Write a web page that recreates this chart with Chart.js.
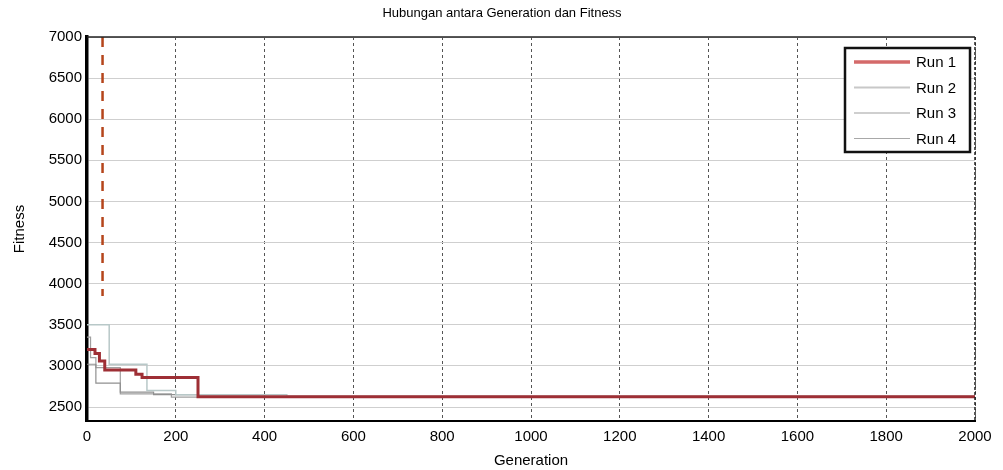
<!DOCTYPE html>
<html>
<head>
<meta charset="utf-8">
<script src="https://cdn.jsdelivr.net/npm/chart.js@4"></script>
<style>
  html, body { margin: 0; padding: 0; background: #fff; }
  #wrap { width: 1003px; height: 470px; }
</style>
</head>
<body>
<div id="wrap"><canvas id="fitnessChart"></canvas></div>
<script>
// values
const xTicks = [0, 200, 400, 600, 800, 1000, 1200, 1400, 1600, 1800, 2000];
const yTicks = [2500, 3000, 3500, 4000, 4500, 5000, 5500, 6000, 6500, 7000];

const run1Gen = [0, 18, 28, 40, 110, 124, 250, 2000];
const run1Fit = [3200, 3150, 3060, 2950, 2900, 2860, 2625, 2625];

const run2Gen = [0, 50, 135, 200, 450, 2000];
const run2Fit = [3500, 3020, 2700, 2650, 2630, 2615];

const run3Gen = [0, 20, 75, 150, 400, 2000];
const run3Fit = [3020, 2790, 2680, 2650, 2625, 2615];

const run4Gen = [0, 8, 20, 75, 190, 2000];
const run4Fit = [3350, 3100, 2980, 2660, 2620, 2612];

const markGen = [35, 35];
const markFit = [7000, 3850];

const legendOrder = ['Run 1', 'Run 2', 'Run 3', 'Run 4'];

function toPoints(gens, fits) {
    return gens.map(function (g, i) { return { x: g, y: fits[i] }; });
}

const FONT = '"Liberation Sans", Arial, sans-serif';

const frameAndLegend = {
    id: 'frameAndLegend',
    afterDraw: function (chart) {
        const c = chart.ctx;
        const a = chart.chartArea;
        c.save();
        // title
        c.fillStyle = '#000';
        c.font = '13px ' + FONT;
        c.textAlign = 'center';
        c.textBaseline = 'middle';
        c.fillText('Hubungan antara Generation dan Fitness', 502, 13);

        // top and right frame
        c.strokeStyle = '#222';
        c.lineWidth = 1.5;
        c.beginPath();
        c.moveTo(a.left, a.top);
        c.lineTo(a.right, a.top);
        c.stroke();
        c.setLineDash([3, 2]);
        c.beginPath();
        c.moveTo(a.right, a.top);
        c.lineTo(a.right, a.bottom);
        c.stroke();
        c.setLineDash([]);

        // legend box
        const bx = 845, by = 48, bw = 125, bh = 104;
        c.fillStyle = '#fff';
        c.fillRect(bx, by, bw, bh);
        c.strokeStyle = '#111';
        c.lineWidth = 2.5;
        c.strokeRect(bx, by, bw, bh);
        c.font = '15px ' + FONT;
        c.textAlign = 'left';
        legendOrder.forEach(function (name, i) {
            const d = chart.data.datasets.find(function (ds) { return ds.label === name; });
            const yy = by + 14 + i * 25.5;
            c.strokeStyle = d.legendColor;
            c.lineWidth = d.legendWidth;
            c.beginPath();
            c.moveTo(bx + 9, yy);
            c.lineTo(bx + 65, yy);
            c.stroke();
            c.fillStyle = '#000';
            c.fillText(d.label, bx + 71, yy + 1);
        });
        c.restore();
    }
};

// Chart.js paints dataset 0 last, so the red run sits on top of the grey ones
new Chart(document.getElementById('fitnessChart').getContext('2d'), {
    type: 'line',
    data: {
        datasets: [
            {
                label: '', data: toPoints(markGen, markFit),
                borderColor: '#b5451b', borderWidth: 2.5, borderDash: [10, 8],
                pointRadius: 0
            },
            {
                label: 'Run 1', data: toPoints(run1Gen, run1Fit), stepped: 'before',
                borderColor: '#9e2f35', legendColor: '#d46a6a', borderWidth: 3, legendWidth: 3.5, pointRadius: 0
            },
            {
                label: 'Run 2', data: toPoints(run2Gen, run2Fit), stepped: 'before',
                borderColor: '#b8c8c8', legendColor: '#c8c8c8', borderWidth: 1.5, legendWidth: 2, pointRadius: 0
            },
            {
                label: 'Run 3', data: toPoints(run3Gen, run3Fit), stepped: 'before',
                borderColor: '#909090', legendColor: '#a0a0a0', borderWidth: 1.2, legendWidth: 1.2, pointRadius: 0
            },
            {
                label: 'Run 4', data: toPoints(run4Gen, run4Fit), stepped: 'before',
                borderColor: '#a0a0a0', legendColor: '#a8a8a8', borderWidth: 1.2, legendWidth: 1.2, pointRadius: 0
            }
        ].map(function (d) { d.fill = false; return d; })
    },
    options: {
        responsive: true,
        maintainAspectRatio: false,
        animation: false,
        layout: { padding: { top: 37, right: 28, left: 0, bottom: 0 } },
        plugins: {
            legend: { display: false },
            tooltip: { enabled: false },
            title: { display: false }
        },
        scales: {
            x: {
                type: 'linear', min: 0, max: 2000,
                afterBuildTicks: function (s) { s.ticks = xTicks.map(function (v) { return { value: v }; }); },
                afterFit: function (s) { s.height = 49; },
                grid: { color: '#555', lineWidth: 1, drawTicks: false },
                border: { color: '#000', width: 2, dash: [3, 3] },
                ticks: {
                    color: '#000', font: { family: FONT, size: 15 }, padding: 7, maxRotation: 0,
                    callback: function (v) { return String(v); }
                },
                title: { display: true, text: 'Generation', color: '#000', font: { family: FONT, size: 15 }, padding: { top: 0, bottom: 0 } }
            },
            y: {
                type: 'linear', min: 2330, max: 7000,
                afterBuildTicks: function (s) { s.ticks = yTicks.map(function (v) { return { value: v }; }); },
                afterFit: function (s) { s.width = 87; },
                grid: { color: '#cfcfcf', lineWidth: 1, drawTicks: false },
                border: { color: '#000', width: 3.5 },
                ticks: {
                    color: '#000', font: { family: FONT, size: 15 }, padding: 5,
                    callback: function (v) { return String(v); }
                },
                title: { display: true, text: 'Fitness', color: '#000', font: { family: FONT, size: 15 }, padding: { top: 11, bottom: 4 } }
            }
        }
    },
    plugins: [frameAndLegend]
});
</script>
</body>
</html>
